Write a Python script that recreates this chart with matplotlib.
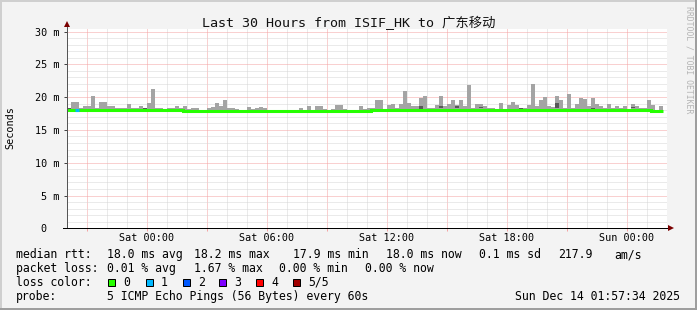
import numpy as np
import pandas as pd
import matplotlib
matplotlib.use("Agg")
import matplotlib.pyplot as plt
import matplotlib.dates as mdates
from matplotlib.lines import Line2D
from matplotlib.patches import Rectangle

W, H = 697, 310
MONO = ["DejaVu Sans Mono", "Noto Sans CJK SC"]

# ---- data: 12 min steps from Fri 20:00 ----
start = pd.Timestamp("2025-12-12 20:00")
span_hours = 30

# top of the smoke per step (ms)
smoke_max = [
    18.3, 19.3, 19.2, 18.3, 18.6, 18.6, 20.2, 18.4, 19.3, 19.2,
    18.6, 18.6, 18.3, 18.4, 18.3, 19.0, 18.3, 18.4, 18.6, 18.3,
    19.1, 21.3, 18.3, 18.4, 18.2, 18.4, 18.4, 18.6, 18.4, 18.6,
    18.2, 18.4, 18.3, 18.1, 18.1, 18.3, 18.5, 19.1, 18.6, 19.6,
    18.3, 18.3, 18.2, 18.1, 18.1, 18.5, 18.2, 18.3, 18.5, 18.3,
    18.1, 18.1, 18.1, 18.1, 18.1, 18.1, 18.1, 18.1, 18.4, 18.1,
    18.7, 18.1, 18.7, 18.6, 18.2, 18.1, 18.2, 18.85, 18.85, 18.2,
    18.1, 18.1, 18.1, 18.6, 18.2, 18.4, 18.4, 19.5, 19.5, 18.1,
    18.8, 19.0, 18.4, 18.9, 20.9, 19.1, 18.6, 18.7, 19.9, 20.2,
    18.4, 18.4, 18.8, 20.2, 18.6, 19.0, 19.6, 18.8, 19.6, 18.6,
    21.8, 18.4, 19.0, 19.0, 18.6, 18.3, 18.3, 18.1, 19.1, 18.1,
    18.8, 19.2, 18.8, 18.3, 18.3, 18.8, 22.0, 18.6, 19.5, 20.0,
    18.6, 18.5, 20.2, 19.5, 18.3, 20.4, 18.3, 19.0, 19.9, 19.7,
    18.6, 19.9, 19.0, 18.6, 18.4, 18.9, 18.4, 18.6, 18.4, 18.7,
    18.1, 18.9, 18.6, 18.4, 18.4, 19.5, 18.8, 18.1, 18.6,
]

# median rtt per step (ms)
median = [
    18.05, 18.05, 18.05, 18.05, 18.05, 18.05, 18.05, 18.05, 18.05, 18.05,
    18.05, 18.05, 18.05, 18.05, 18.05, 18.05, 18.05, 18.05, 18.05, 18.05,
    18.05, 18.05, 18.05, 18.05, 18.05, 18.05, 18.05, 18.05, 18.05, 17.9,
    17.9, 17.9, 17.9, 17.9, 17.9, 17.9, 17.9, 17.9, 17.9, 17.9,
    17.9, 17.9, 17.9, 17.9, 17.9, 17.9, 17.9, 17.9, 17.9, 17.9,
    17.9, 17.9, 17.9, 17.9, 17.9, 17.9, 17.9, 17.9, 17.9, 17.9,
    17.9, 17.9, 17.9, 17.9, 17.9, 17.9, 17.9, 17.9, 17.9, 17.9,
    17.85, 17.85, 17.85, 17.85, 17.9, 17.9, 18.0, 18.0, 18.0, 18.0,
    18.0, 18.0, 18.0, 18.0, 18.0, 18.0, 18.0, 18.0, 18.0, 18.0,
    18.0, 18.0, 18.0, 18.0, 18.0, 18.0, 18.0, 18.0, 18.0, 18.0,
    18.0, 18.0, 18.0, 18.0, 18.0, 18.0, 18.0, 18.0, 18.0, 18.0,
    18.0, 18.0, 18.0, 18.0, 18.0, 18.0, 18.0, 18.0, 18.0, 18.0,
    18.0, 18.0, 18.0, 18.0, 18.0, 18.0, 18.0, 18.0, 18.0, 18.0,
    18.0, 18.0, 18.0, 18.0, 18.0, 18.0, 18.0, 18.0, 18.0, 18.0,
    18.0, 18.0, 18.0, 18.0, 18.0, 18.0, 17.85, 17.85, 17.85,
]

# steps with packet loss (index, loss level)
loss_bins = [2]
loss_level = [1]

# darker smoke segments (index, low, high)
dark_bins = [0, 19, 88, 93, 97, 103, 113, 122, 131, 141]
dark_lo = [18.2, 18.2, 18.0, 18.4, 18.4, 18.3, 18.0, 18.3, 18.2, 18.3]
dark_hi = [18.4, 18.4, 18.7, 18.6, 18.6, 18.5, 18.4, 19.1, 18.4, 18.45]

loss_colors = ["#26ff00", "#00b8ff", "#0059ff", "#7e00ff", "#ff0000", "#a10000"]
loss_labels = ["0", "1", "2", "3", "4", "5/5"]

ytick_vals = [0, 5, 10, 15, 20, 25, 30]
ytick_labels = ["0  ", "5 m", "10 m", "15 m", "20 m", "25 m", "30 m"]

stats_rows = [
    [("median rtt:", 16), ("18.0 ms avg", 107.3), ("18.2 ms max", 194),
     ("17.9 ms min", 293.3), ("18.0 ms now", 386), ("0.1 ms sd", 479.3),
     ("217.9", 558.3), ("am/s", 614)],
    [("packet loss:", 16), ("0.01 % avg", 107.3), ("1.67 % max", 194),
     ("0.00 % min", 279.3), ("0.00 % now", 365)],
]
probe_text = "5 ICMP Echo Pings (56 Bytes) every 60s"
stamp_text = "Sun Dec 14 01:57:34 2025"
title = "Last 30 Hours from ISIF_HK to 广东移动"

# ---- figure ----
fig = plt.figure(figsize=(W / 100, H / 100), dpi=100, facecolor="#f3f3f3")
x0, x1, ytop, ybot = 66.7, 666.7, 28.5, 228.3
ax = fig.add_axes([x0 / W, 1 - ybot / H, (x1 - x0) / W, (ybot - ytop) / H])
ax.set_facecolor("white")
for s in ax.spines.values():
    s.set_visible(False)

edges = mdates.date2num(pd.date_range(start, periods=len(median) + 1, freq="12min"))
t_end = mdates.date2num(start + pd.Timedelta(hours=span_hours))
smoke_max = np.array(smoke_max)
median = np.array(median)

# grid (dotted, behind the data)
hours = pd.date_range(start, periods=span_hours, freq="h")[1:]
for t in hours:
    major = t.hour % 3 == 0
    ax.axvline(mdates.date2num(t), color="#f4a3a3" if major else "#d6d6d6",
               lw=0.72, ls=(0, (1, 1)), zorder=0.5)
for v in range(1, 31):
    major = v % 5 == 0
    ax.axhline(v, color="#f4a3a3" if major else "#d6d6d6",
               lw=0.72, ls=(0, (1, 1)), zorder=0.5)

# smoke
ax.bar(edges[:-1], smoke_max - median, bottom=median, width=np.diff(edges),
       align="edge", color="#a4a4a4", linewidth=0, antialiased=False, zorder=2)
for b, lo, hi in zip(dark_bins, dark_lo, dark_hi):
    ax.bar(edges[b], hi - lo, bottom=lo, width=edges[b + 1] - edges[b],
           align="edge", color="#585858", linewidth=0, antialiased=False, zorder=2.5)

# median line coloured by loss
ax.stairs(median, edges, baseline=None, color=loss_colors[0], lw=2.2, zorder=3)
for b, lv in zip(loss_bins, loss_level):
    ax.hlines(median[b], edges[b], edges[b + 1], color=loss_colors[lv], lw=2.2, zorder=3.5)

ax.set_xlim(edges[0], t_end)
ax.set_ylim(0, (ybot - ytop) / 6.56)

# ticks
ax.set_yticks(ytick_vals, ytick_labels)
ax.tick_params(axis="y", length=2.2, width=0.72, pad=3.2, labelsize=7.3, color="#444444")
xt = [mdates.date2num(t) for t in hours if t.hour % 3 == 0]
xl = [mdates.num2date(v).strftime("%a %H:%M") if mdates.num2date(v).hour % 6 == 0 else ""
      for v in xt]
ax.set_xticks(xt, xl)
ax.tick_params(axis="x", length=2.2, width=0.72, pad=1.2, labelsize=7.3, color="#f4a3a3")
for lab in ax.get_xticklabels() + ax.get_yticklabels():
    lab.set_family(MONO)

def fx(px):
    return px / W

def fy(py):
    return 1 - py / H

# axes lines and arrows
fig.add_artist(Line2D([fx(x0), fx(x0)], [fy(ybot), fy(24)], color="#555555", lw=0.72))
fig.add_artist(Line2D([fx(63), fx(670)], [fy(ybot), fy(ybot)], color="black", lw=0.72))
fig.add_artist(Line2D([fx(x0)], [fy(23.5)], marker="^", ms=4.5, color="#7a0000", mew=0))
fig.add_artist(Line2D([fx(671)], [fy(ybot)], marker=">", ms=4.5, color="#7a0000", mew=0))

# texts
fig.text(0.5, fy(27.3), title, ha="center", va="baseline", fontsize=9.6,
         family=MONO, color="#111111")
fig.text(fx(10), fy(128), "Seconds", rotation=90, ha="center", va="center",
         fontsize=7.3, family=MONO)
fig.text(fx(688.5), fy(60), "RRDTOOL / TOBI OETIKER", rotation=-90, ha="center",
         va="center", fontsize=5.9, family=MONO, color="#b4b4b4")

rows_y = [258.2, 272.0, 285.8, 299.6]
for row, y in zip(stats_rows, rows_y):
    for txt, x in row:
        fig.text(fx(x), fy(y), txt, ha="left", va="baseline", fontsize=8.3, family=MONO)

fig.text(fx(16), fy(rows_y[2]), "loss color:", ha="left", va="baseline", fontsize=8.3, family=MONO)
box_x = [108.3, 145.7, 182.7, 219.3, 256.0, 293.3]
for bx, c, lab in zip(box_x, loss_colors, loss_labels):
    fig.add_artist(Rectangle((fx(bx), fy(285.5)), 7 / W, 7 / H, transform=fig.transFigure,
                             facecolor=c, edgecolor="black", lw=0.72))
    fig.text(fx(bx + 15), fy(rows_y[2]), lab, ha="left", va="baseline", fontsize=8.3, family=MONO)

fig.text(fx(16), fy(rows_y[3]), "probe:", ha="left", va="baseline", fontsize=8.3, family=MONO)
fig.text(fx(107.3), fy(rows_y[3]), probe_text, ha="left", va="baseline", fontsize=8.3, family=MONO)
fig.text(fx(680), fy(rows_y[3]), stamp_text, ha="right", va="baseline", fontsize=8.3, family=MONO)

# frame shading
fig.add_artist(Line2D([0, 1], [fy(0.7), fy(0.7)], color="#cfcfcf", lw=1.44))
fig.add_artist(Line2D([fx(0.7), fx(0.7)], [0, 1], color="#cfcfcf", lw=1.44))
fig.add_artist(Line2D([0, 1], [fy(H - 0.7), fy(H - 0.7)], color="#9e9e9e", lw=1.44))
fig.add_artist(Line2D([fx(W - 0.7), fx(W - 0.7)], [0, 1], color="#9e9e9e", lw=1.44))

fig.savefig("out.png", dpi=100, facecolor=fig.get_facecolor())
